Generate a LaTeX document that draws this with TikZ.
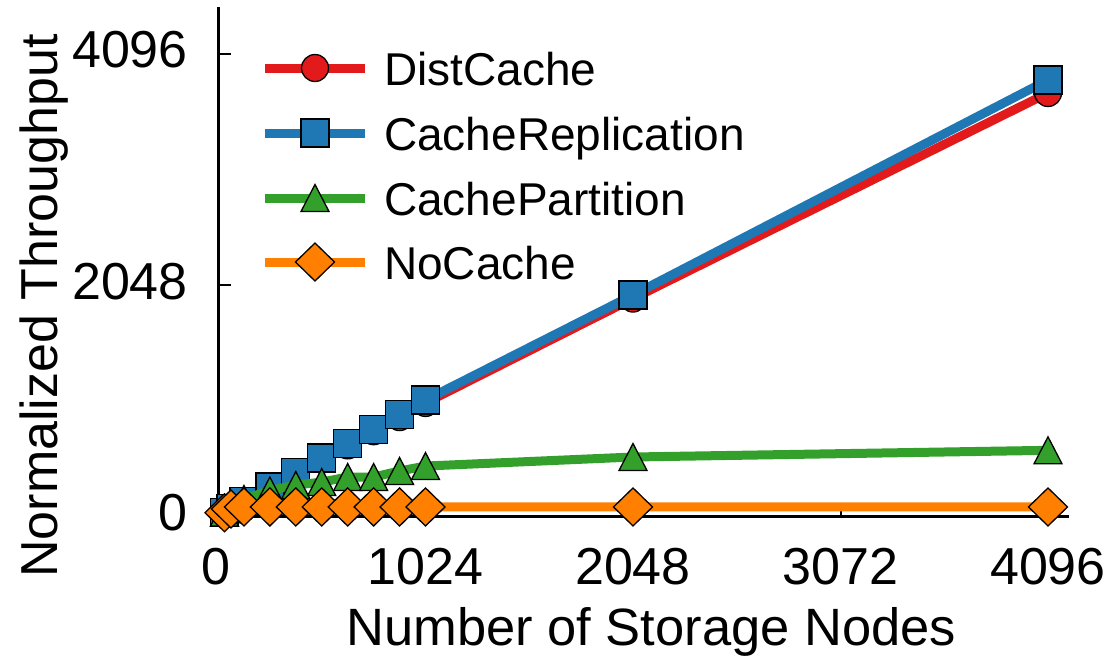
\documentclass[tikz,border=0pt]{standalone}
\usepackage{fontspec}
\setmainfont{Liberation Sans}
\definecolor{cred}{HTML}{E31A1C}
\definecolor{cblue}{HTML}{1F78B4}
\definecolor{cgreen}{HTML}{33A02C}
\definecolor{corange}{HTML}{FF7F00}
\tikzset{
 mk/.style={draw=black, line width=1.3pt, line join=miter},
 pics/mcirc/.style={code={\draw[mk, fill=cred] (0pt,0pt) circle[radius=13.5pt];}},
 pics/msq/.style={code={\draw[mk, fill=cblue] (-14pt,-14pt) rectangle (14pt,14pt);}},
 pics/mtri/.style={code={\draw[mk, fill=cgreen] (-14pt,-13.5pt) -- (14pt,-13.5pt) -- (0pt,13.5pt) -- cycle;}},
 pics/mdia/.style={code={\draw[mk, fill=corange] (-19.5pt,0pt) -- (0pt,19pt) -- (19.5pt,0pt) -- (0pt,-19pt) -- cycle;}},
 series/.style={line width=9pt, line join=round},
 axisline/.style={line width=3pt},
 tickmark/.style={line width=2pt},
 bigtext/.style={font=\fontsize{52}{52}\selectfont, inner sep=0pt},
 legtext/.style={font=\fontsize{46}{46}\selectfont, inner sep=0pt, anchor=base west},
}
\begin{document}
\begin{tikzpicture}[x=1pt,y=-1pt]
\useasboundingbox (0,0) rectangle (1112,657);
% axes
\coordinate (ytop) at (218,7);
\coordinate (ybot) at (218,517.5);
\coordinate (xleft) at (216.5,516);
\coordinate (xright) at (1069,516);
\draw[axisline] (ytop) -- (ybot);
\draw[axisline] (xleft) -- (xright);
% x ticks
\foreach \i in {1,2,3,4} {
  \coordinate (xt\i) at ({218+207.5*\i},516);
  \draw[tickmark] (xt\i) -- ++(0,-11);
}
% y ticks
\coordinate (yt1) at (218,284.75);
\coordinate (yt2) at (218,53.5);
\draw[tickmark] (yt1) -- ++(13,0);
\draw[tickmark] (yt2) -- ++(13,0);
% tick labels
\node[bigtext, anchor=base east] (yl0) at (188,530) {0};
\node[bigtext, anchor=base east] (yl1) at (188,299) {2048};
\node[bigtext, anchor=base east] (yl2) at (188,67.5) {4096};
\node[bigtext, anchor=base] (xl0) at (216,584) {0};
\node[bigtext, anchor=base] (xl1) at (425.5,584) {1024};
\node[bigtext, anchor=base] (xl2) at (633,584) {2048};
\node[bigtext, anchor=base] (xl3) at (840.5,584) {3072};
\node[bigtext, anchor=base] (xl4) at (1048,584) {4096};
% axis labels
\node[bigtext, font=\fontsize{52.5}{52.5}\selectfont, anchor=base west] (xlab) at (346,645) {Number of Storage Nodes};
\node[bigtext, rotate=90, anchor=base] (ylab) at (57,306) {Normalized Throughput};
% data
\begin{scope}[shift={(218pt,-516pt)}, x=0.202637pt, y=0.113037pt]
  \draw[series, cred] plot coordinates {(32,31) (64,62) (128,125) (256,250) (384,375) (512,500) (640,625) (768,750) (896,875) (1024,1000) (2048,1924) (4096,3742)};
  \foreach \a/\b in {32/31, 64/62, 128/125, 256/250, 384/375, 512/500, 640/625, 768/750, 896/875, 1024/1000, 2048/1924, 4096/3742}
    \pic at (\a,\b) {mcirc};
  \draw[series, cblue] plot coordinates {(32,32) (64,64) (128,128) (256,256) (384,384) (512,512) (640,640) (768,768) (896,896) (1024,1026) (2048,1955) (4096,3857)};
  \foreach \a/\b in {32/32, 64/64, 128/128, 256/256, 384/384, 512/512, 640/640, 768/768, 896/896, 1024/1026, 2048/1955, 4096/3857}
    \pic at (\a,\b) {msq};
  \draw[series, cgreen] plot coordinates {(32,30) (64,60) (128,150) (256,225) (384,274) (512,300) (640,345) (768,345) (896,398) (1024,442) (2048,522) (4096,581)};
  \foreach \a/\b in {32/30, 64/60, 128/150, 256/225, 384/274, 512/300, 640/345, 768/345, 896/398, 1024/442, 2048/522, 4096/581}
    \pic at (\a,\b) {mtri};
  \draw[series, corange] plot coordinates {(32,29) (64,62) (128,80) (256,80) (384,80) (512,80) (640,80) (768,80) (896,80) (1024,80) (2048,80) (4096,80)};
  \foreach \a/\b in {32/29, 64/62, 128/80, 256/80, 384/80, 512/80, 640/80, 768/80, 896/80, 1024/80, 2048/80, 4096/80}
    \pic at (\a,\b) {mdia};
\end{scope}
% legend
\coordinate (l1a) at (265,68);  \coordinate (l1b) at (365,68);
\coordinate (l2a) at (265,133); \coordinate (l2b) at (365,133);
\coordinate (l3a) at (265,198); \coordinate (l3b) at (365,198);
\coordinate (l4a) at (265,262); \coordinate (l4b) at (365,262);
\draw[series, cred] (l1a) -- (l1b);
\pic at (315,68) {mcirc};
\node[legtext] (t1) at (384,85) {DistCache};
\draw[series, cblue] (l2a) -- (l2b);
\pic at (315,133) {msq};
\node[legtext] (t2) at (384,150) {CacheReplication};
\draw[series, cgreen] (l3a) -- (l3b);
\pic at (315,198) {mtri};
\node[legtext] (t3) at (384,215) {CachePartition};
\draw[series, corange] (l4a) -- (l4b);
\pic at (315,262) {mdia};
\node[legtext] (t4) at (384,279) {NoCache};
\end{tikzpicture}
\end{document}
